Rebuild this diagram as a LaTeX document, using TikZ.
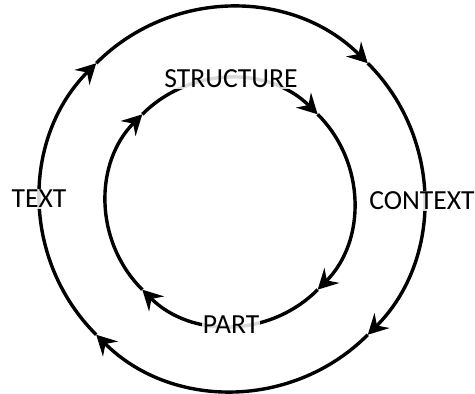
\documentclass[tikz,border=0pt]{standalone}
\usepackage{fontspec}
\setmainfont{Carlito}
\usetikzlibrary{arrows.meta}

\begin{document}
\begin{tikzpicture}[x=1pt, y=1pt,
  ring/.style={line width=3.4pt, -{Stealth[length=20pt, width=21pt, inset=7pt]}},
  label node/.style={fill=white, fill opacity=0.85, text opacity=1, inner sep=1pt,
    font=\fontsize{27.6}{30}\selectfont}]
\useasboundingbox (0,0) rectangle (475,394);
\coordinate (outer) at (232,195);
\coordinate (inner) at (230,192);
% outer and inner cycle, clockwise
\foreach \a in {135,45,-45,-135}
  \draw[ring] (outer) ++(\a:192) arc[start angle=\a, delta angle=-90, radius=192];
\foreach \a in {135,45,-45,-135}
  \draw[ring] (inner) ++(\a:124) arc[start angle=\a, delta angle=-90, radius=124];
\node[label node] (structure) at (231,315) {STRUCTURE};
\node[label node] (part)      at (231,69)  {PART};
\node[label node] (context)   at (422,193) {CONTEXT};
\node[label node] (text)      at (39,195)  {TEXT};
\end{tikzpicture}
\end{document}
